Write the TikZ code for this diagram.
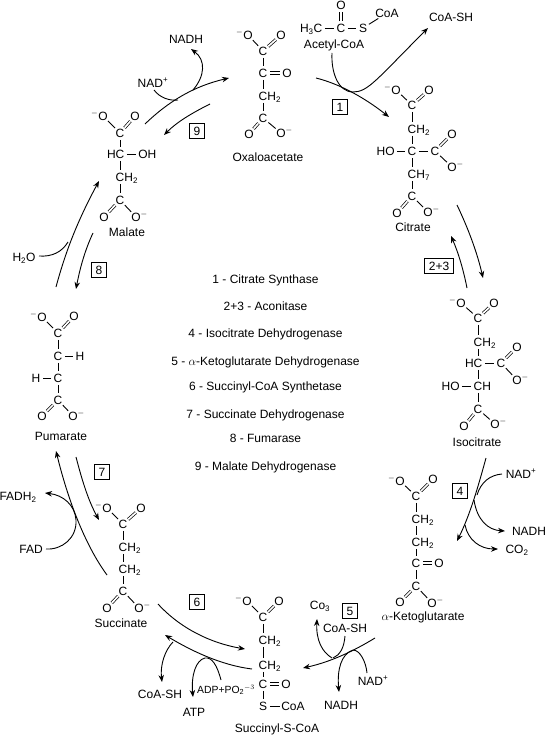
\documentclass[tikz,border=0pt]{standalone}
\usepackage{fontspec}
\setmainfont{Liberation Sans}
\usetikzlibrary{arrows.meta,positioning}

\begin{document}
\begin{tikzpicture}[x=1pt, y=-1pt, on grid,
  atom/.style={circle, inner sep=0pt, minimum size=13.5pt, text height=8.5pt, text depth=0pt,
               font=\fontsize{12}{14}\selectfont},
  lab/.style={inner sep=1pt, text height=8.5pt, text depth=0pt,
              font=\fontsize{12}{14}\selectfont},
  small/.style={lab, font=\fontsize{10.4}{12}\selectfont},
  enz/.style={draw, line width=0.9pt, inner sep=0pt, minimum width=15pt, minimum height=14.5pt,
              text height=8.5pt, text depth=0pt, font=\fontsize{12}{14}\selectfont},
  bond/.style={line width=0.9pt},
  dbl/.style={line width=0.7pt, double, double distance=1.7pt},
  arr/.style={-{Stealth[length=7pt,width=5.5pt]}, line width=0.9pt},
  side/.style={line width=0.9pt}
]
\useasboundingbox (0,0) rectangle (546,735);

% Oxaloacetate
\node[atom] (oxaC1) at (263,51) {C};
\node[atom, above left=16pt and 15pt of oxaC1]  (oxaO1) {\llap{$^-$}O};
\node[atom, above right=16pt and 18pt of oxaC1] (oxaO2) {O};
\node[atom, below=22pt of oxaC1]  (oxaC2) {C};
\node[atom, right=24pt of oxaC2]  (oxaO3) {O};
\node[atom, below=23pt of oxaC2]  (oxaCH) {C\rlap{H\textsubscript{2}}};
\node[atom, below=22pt of oxaCH]  (oxaC3) {C};
\node[atom, below left=16pt and 14pt of oxaC3]  (oxaO4) {O};
\node[atom, below right=15pt and 18pt of oxaC3] (oxaO5) {O\rlap{$^-$}};
\node[lab] (oxaName) at (268,157) {Oxaloacetate};
\draw[bond] (oxaC1) -- (oxaO1);
\draw[dbl]  (oxaC1) -- (oxaO2);
\draw[bond] (oxaC1) -- (oxaC2) -- (oxaCH) -- (oxaC3);
\draw[dbl]  (oxaC2) -- (oxaO3);
\draw[dbl]  (oxaC3) -- (oxaO4);
\draw[bond] (oxaC3) -- (oxaO5);

% Acetyl-CoA
\node[atom] (aceC) at (341,28) {C};
\node[atom, above=23pt of aceC] (aceO) {O};
\node[atom, left=23pt of aceC]  (aceMe) {\llap{H\textsubscript{3}}C};
\node[atom, right=22pt of aceC] (aceS) {S};
\node[lab] (aceCoA) at (387,13) {CoA};
\node[lab] (aceName) at (334,44) {Acetyl-CoA};
\draw[dbl]  (aceC) -- (aceO);
\draw[bond] (aceMe) -- (aceC) -- (aceS);
\draw[bond] (aceS) -- (aceCoA);
\node[lab] (coash1) at (451,17) {CoA-SH};

% Citrate
\node[atom] (citC1) at (412,105) {C};
\node[atom, above left=15pt and 16pt of citC1]  (citO1) {\llap{$^-$}O};
\node[atom, above right=15pt and 17pt of citC1] (citO2) {O};
\node[atom, below=24pt of citC1] (citCH1) {C\rlap{H\textsubscript{2}}};
\node[atom, below=22pt of citCH1] (citC2) {C};
\node[atom, left=22pt of citC2]   (citOH) {\llap{H}O};
\node[atom, right=23pt of citC2]  (citC3) {C};
\node[atom, above right=17pt and 17pt of citC3] (citO3) {O};
\node[atom, below right=16pt and 17pt of citC3] (citO4) {O\rlap{$^-$}};
\node[atom, below=23pt of citC2]  (citCH2) {C\rlap{H\textsubscript{7}}};
\node[atom, below=22pt of citCH2] (citC4) {C};
\node[atom, below left=17pt and 15pt of citC4]  (citO5) {O};
\node[atom, below right=16pt and 16pt of citC4] (citO6) {O\rlap{$^-$}};
\node[lab] (citName) at (413,227) {Citrate};
\draw[bond] (citC1) -- (citO1);
\draw[dbl]  (citC1) -- (citO2);
\draw[bond] (citC1) -- (citCH1) -- (citC2) -- (citCH2) -- (citC4);
\draw[bond] (citOH) -- (citC2) -- (citC3);
\draw[dbl]  (citC3) -- (citO3);
\draw[bond] (citC3) -- (citO4);
\draw[dbl]  (citC4) -- (citO5);
\draw[bond] (citC4) -- (citO6);

% Isocitrate
\node[atom] (isoC1) at (478,318) {C};
\node[atom, above left=15pt and 17pt of isoC1]  (isoO1) {\llap{$^-$}O};
\node[atom, above right=15pt and 16pt of isoC1] (isoO2) {O};
\node[atom, below=24pt of isoC1] (isoCH1) {C\rlap{H\textsubscript{2}}};
\node[atom, below=21pt of isoCH1] (isoC2) {\llap{H}C};
\node[atom, right=23pt of isoC2]  (isoC3) {C};
\node[atom, above right=16pt and 16pt of isoC3] (isoO3) {O};
\node[atom, below right=17pt and 16pt of isoC3] (isoO4) {O\rlap{$^-$}};
\node[atom, below=23pt of isoC2]  (isoC4) {C\rlap{H}};
\node[atom, left=23pt of isoC4]   (isoOH) {\llap{H}O};
\node[atom, below=23pt of isoC4]  (isoC5) {C};
\node[atom, below left=17pt and 14pt of isoC5]  (isoO5) {O};
\node[atom, below right=15pt and 17pt of isoC5] (isoO6) {O\rlap{$^-$}};
\node[lab] (isoName) at (477,442) {Isocitrate};
\draw[bond] (isoC1) -- (isoO1);
\draw[dbl]  (isoC1) -- (isoO2);
\draw[bond] (isoC1) -- (isoCH1) -- (isoC2) -- (isoC4) -- (isoC5);
\draw[bond] (isoC2) -- (isoC3);
\draw[dbl]  (isoC3) -- (isoO3);
\draw[bond] (isoC3) -- (isoO4);
\draw[bond] (isoOH) -- (isoC4);
\draw[dbl]  (isoC5) -- (isoO5);
\draw[bond] (isoC5) -- (isoO6);

% alpha-Ketoglutarate
\node[atom] (ketC1) at (416,496) {C};
\node[atom, above left=15pt and 16pt of ketC1]  (ketO1) {\llap{$^-$}O};
\node[atom, above right=17pt and 17pt of ketC1] (ketO2) {O};
\node[atom, below=23pt of ketC1]  (ketCH1) {C\rlap{H\textsubscript{2}}};
\node[atom, below=23pt of ketCH1] (ketCH2) {C\rlap{H\textsubscript{2}}};
\node[atom, below=21pt of ketCH2] (ketC2) {C};
\node[atom, right=23pt of ketC2]  (ketO3) {O};
\node[atom, below=23pt of ketC2]  (ketC3) {C};
\node[atom, below left=16pt and 16pt of ketC3]  (ketO4) {O};
\node[atom, below right=17pt and 16pt of ketC3] (ketO5) {O\rlap{$^-$}};
\node[lab] (ketName) at (423,616) {$\alpha$-Ketoglutarate};
\draw[bond] (ketC1) -- (ketO1);
\draw[dbl]  (ketC1) -- (ketO2);
\draw[bond] (ketC1) -- (ketCH1) -- (ketCH2) -- (ketC2) -- (ketC3);
\draw[dbl]  (ketC2) -- (ketO3);
\draw[dbl]  (ketC3) -- (ketO4);
\draw[bond] (ketC3) -- (ketO5);

% Succinyl-S-CoA
\node[atom] (sucC1) at (263,617) {C};
\node[atom, above left=16pt and 16pt of sucC1]  (sucO1) {\llap{$^-$}O};
\node[atom, above right=16pt and 16pt of sucC1] (sucO2) {O};
\node[atom, below=23pt of sucC1]  (sucCH1) {C\rlap{H\textsubscript{2}}};
\node[atom, below=25pt of sucCH1] (sucCH2) {C\rlap{H\textsubscript{2}}};
\node[atom, below=19pt of sucCH2] (sucC2) {C};
\node[atom, right=23pt of sucC2]  (sucO3) {O};
\node[atom, below=22pt of sucC2]  (sucS) {S};
\node[lab] (sucCoA) at (293,706) {CoA};
\node[lab] (sucName) at (277,728) {Succinyl-S-CoA};
\draw[bond] (sucC1) -- (sucO1);
\draw[dbl]  (sucC1) -- (sucO2);
\draw[bond] (sucC1) -- (sucCH1) -- (sucCH2) -- (sucC2) -- (sucS);
\draw[dbl]  (sucC2) -- (sucO3);
\draw[bond] (sucS) -- (sucCoA);

% Succinate
\node[atom] (sacC1) at (123,524) {C};
\node[atom, above left=16pt and 16pt of sacC1]  (sacO1) {\llap{$^-$}O};
\node[atom, above right=16pt and 18pt of sacC1] (sacO2) {O};
\node[atom, below=23pt of sacC1]  (sacCH1) {C\rlap{H\textsubscript{2}}};
\node[atom, below=22pt of sacCH1] (sacCH2) {C\rlap{H\textsubscript{2}}};
\node[atom, below=22pt of sacCH2] (sacC2) {C};
\node[atom, below left=17pt and 16pt of sacC2]  (sacO3) {O};
\node[atom, below right=17pt and 16pt of sacC2] (sacO4) {O\rlap{$^-$}};
\node[lab] (sacName) at (121,623) {Succinate};
\draw[bond] (sacC1) -- (sacO1);
\draw[dbl]  (sacC1) -- (sacO2);
\draw[bond] (sacC1) -- (sacCH1) -- (sacCH2) -- (sacC2);
\draw[dbl]  (sacC2) -- (sacO3);
\draw[bond] (sacC2) -- (sacO4);

% Pumarate
\node[atom] (pumC1) at (58,333) {C};
\node[atom, above left=16pt and 16pt of pumC1]  (pumO1) {\llap{$^-$}O};
\node[atom, above right=17pt and 16pt of pumC1] (pumO2) {O};
\node[atom, below=23pt of pumC1] (pumC2) {C};
\node[atom, right=22pt of pumC2] (pumH1) {H};
\node[atom, below=22pt of pumC2] (pumC3) {C};
\node[atom, left=22pt of pumC3]  (pumH2) {H};
\node[atom, below=22pt of pumC3] (pumC4) {C};
\node[atom, below left=16pt and 16pt of pumC4]  (pumO3) {O};
\node[atom, below right=16pt and 15pt of pumC4] (pumO4) {O\rlap{$^-$}};
\node[lab] (pumName) at (61,436) {Pumarate};
\draw[bond] (pumC1) -- (pumO1);
\draw[dbl]  (pumC1) -- (pumO2);
\draw[bond] (pumC1) -- (pumC2) -- (pumC3) -- (pumC4);
\draw[bond] (pumC2) -- (pumH1);
\draw[bond] (pumC3) -- (pumH2);
\draw[dbl]  (pumC4) -- (pumO3);
\draw[bond] (pumC4) -- (pumO4);

% Malate
\node[atom] (malC1) at (120,133) {C};
\node[atom, above left=17pt and 17pt of malC1]  (malO1) {\llap{$^-$}O};
\node[atom, above right=17pt and 15pt of malC1] (malO2) {O};
\node[atom, below=21pt of malC1]  (malC2) {\llap{H}C};
\node[atom, right=23pt of malC2]  (malOH) {O\rlap{H}};
\node[atom, below=23pt of malC2]  (malCH) {C\rlap{H\textsubscript{2}}};
\node[atom, below=23pt of malCH]  (malC3) {C};
\node[atom, below left=17pt and 16pt of malC3]  (malO3) {O};
\node[atom, below right=17pt and 16pt of malC3] (malO4) {O\rlap{$^-$}};
\node[lab] (malName) at (127,232) {Malate};
\draw[bond] (malC1) -- (malO1);
\draw[dbl]  (malC1) -- (malO2);
\draw[bond] (malC1) -- (malC2) -- (malCH) -- (malC3);
\draw[bond] (malC2) -- (malOH);
\draw[dbl]  (malC3) -- (malO3);
\draw[bond] (malC3) -- (malO4);

% enzymes in the middle
\node[lab] (e1) at (265.5,279) {1 - Citrate Synthase};
\node[lab, below=27pt of e1] (e2) {2+3 - Aconitase};
\node[lab, below=27pt of e2] (e4) {4 - Isocitrate Dehydrogenase};
\node[lab, below=28pt of e4] (e5) {5 - $\alpha$-Ketoglutarate Dehydrogenase};
\node[lab, below=25pt of e5] (e6) {6 - Succinyl-CoA Synthetase};
\node[lab, below=28pt of e6] (e7) {7 - Succinate Dehydrogenase};
\node[lab, below=24pt of e7] (e8) {8 - Fumarase};
\node[lab, below=28pt of e8] (e9) {9 - Malate Dehydrogenase};

% numbered boxes
\node[enz] (box1) at (340,107) {1};
\node[enz, minimum width=29pt] (box2) at (439,266) {2+3};
\node[enz] (box4) at (460,491) {4};
\node[enz] (box5) at (350,611) {5};
\node[enz] (box6) at (197,602) {6};
\node[enz] (box7) at (102,472) {7};
\node[enz] (box8) at (99,270) {8};
\node[enz] (box9) at (197,131) {9};

% cofactors
\node[lab] (nadp9) at (153,83) {NAD\textsuperscript{+}};
\node[lab] (nadh9) at (186,39) {NADH};
\node[lab] (water) at (24,257) {H\textsubscript{2}O};
\node[lab] (fadh)  at (18,496) {FADH\textsubscript{2}};
\node[lab] (fad)   at (31,549) {FAD};
\node[lab] (coash6) at (160,694) {CoA-SH};
\node[lab] (atp)   at (194,712) {ATP};
\node[small] (adp) at (226,689) {ADP+PO\textsubscript{2}$^{-3}$};
\node[lab] (co3)   at (320,605) {Co\textsubscript{3}};
\node[lab] (coash5) at (345,628) {CoA-SH};
\node[lab] (nadh5) at (341,705) {NADH};
\node[lab] (nadp5) at (373,681) {NAD\textsuperscript{+}};
\node[lab] (nadp4) at (521,474) {NAD\textsuperscript{+}};
\node[lab] (nadh4) at (529,531) {NADH};
\node[lab] (co2)   at (517,549) {CO\textsubscript{2}};

% free ends of the reaction arrows
\coordinate (r1a) at (316,78);   \coordinate (r1b) at (389,117);
\coordinate (r1c) at (332,53);   \coordinate (r1d) at (428,28);
\coordinate (r2a) at (467,288);  \coordinate (r2b) at (451,236);
\coordinate (r3a) at (457,205);  \coordinate (r3b) at (483,278);
\coordinate (r4a) at (486,458);  \coordinate (r4b) at (457,541);
\coordinate (r4c) at (502,474);  \coordinate (r4d) at (477,495);
\coordinate (r4e) at (474,500);  \coordinate (r4f) at (505,531);
\coordinate (r4g) at (465,525);  \coordinate (r4h) at (498,549);
\coordinate (r5a) at (375,638);  \coordinate (r5b) at (303,668);
\coordinate (r5c) at (332,658);  \coordinate (r5d) at (317,619);
\coordinate (r5e) at (345,636);  \coordinate (r5f) at (333,658);
\coordinate (r5g) at (367,673);  \coordinate (r5h) at (339,692);
\coordinate (r6a) at (158,604);  \coordinate (r6b) at (245,649);
\coordinate (r6c) at (252,669);  \coordinate (r6d) at (165,635);
\coordinate (r6e) at (173,642);  \coordinate (r6f) at (162,682);
\coordinate (r6g) at (221,680);  \coordinate (r6h) at (193,697);
\coordinate (r7a) at (107,575);  \coordinate (r7b) at (56,451);
\coordinate (r7c) at (76,457);   \coordinate (r7d) at (99,520);
\coordinate (r7e) at (46,549);   \coordinate (r7f) at (45,493);
\coordinate (r8a) at (56,287);   \coordinate (r8b) at (99,181);
\coordinate (r8c) at (93,233);   \coordinate (r8d) at (76,289);
\coordinate (r8e) at (39,256);   \coordinate (r8f) at (68,242);
\coordinate (r9a) at (145,124);  \coordinate (r9b) at (229,78);
\coordinate (r9c) at (210,104);  \coordinate (r9d) at (164,135);
\coordinate (r9e) at (154,90);   \coordinate (r9f) at (178,100);
\coordinate (r9g) at (193,90);   \coordinate (r9h) at (191,49);

% reaction arrows
\draw[arr]  (r1a) .. controls (340,84) and (365,98) .. (r1b);
\draw[arr]  (r1c) .. controls (331,72) and (338,92) .. (353,92) .. controls (368,92) and (376,80) .. (r1d);
\draw[arr]  (r2a) .. controls (463,268) and (458,252) .. (r2b);
\draw[arr]  (r3a) .. controls (468,228) and (477,252) .. (r3b);
\draw[arr]  (r4a) .. controls (478,487) and (470,515) .. (r4b);
\draw[side] (r4c) .. controls (490,475) and (481,482) .. (r4d);
\draw[arr]  (r4e) .. controls (477,520) and (488,530) .. (r4f);
\draw[arr]  (r4g) .. controls (468,540) and (480,549) .. (r4h);
\draw[arr]  (r5a) .. controls (352,652) and (330,662) .. (r5b);
\draw[arr]  (r5c) .. controls (322,652) and (316,640) .. (r5d);
\draw[side] (r5e) .. controls (344,648) and (340,655) .. (r5f);
\draw[arr]  (r5g) .. controls (366,662) and (360,650) .. (353,650) .. controls (341,654) and (337,670) .. (r5h);
\draw[arr]  (r6a) .. controls (180,628) and (210,643) .. (r6b);
\draw[arr]  (r6c) .. controls (220,665) and (190,650) .. (r6d);
\draw[arr]  (r6e) .. controls (165,650) and (160,665) .. (r6f);
\draw[arr]  (r6g) .. controls (217,665) and (212,657) .. (205,658) .. controls (196,660) and (191,675) .. (r6h);
\draw[arr]  (r7a) .. controls (85,545) and (68,500) .. (r7b);
\draw[arr]  (r7c) .. controls (82,480) and (88,500) .. (r7d);
\draw[arr]  (r7e) .. controls (62,550) and (77,538) .. (76,520) .. controls (75,505) and (63,495) .. (r7f);
\draw[arr]  (r8a) .. controls (66,250) and (78,220) .. (r8b);
\draw[arr]  (r8c) .. controls (85,250) and (80,268) .. (r8d);
\draw[side] (r8e) .. controls (52,257) and (62,252) .. (r8f);
\draw[arr]  (r9a) .. controls (170,100) and (195,86) .. (r9b);
\draw[arr]  (r9c) .. controls (192,113) and (177,122) .. (r9d);
\draw[side] (r9e) .. controls (160,98) and (170,101) .. (r9f);
\draw[arr]  (r9g) .. controls (205,76) and (206,60) .. (r9h);
\end{tikzpicture}
\end{document}
